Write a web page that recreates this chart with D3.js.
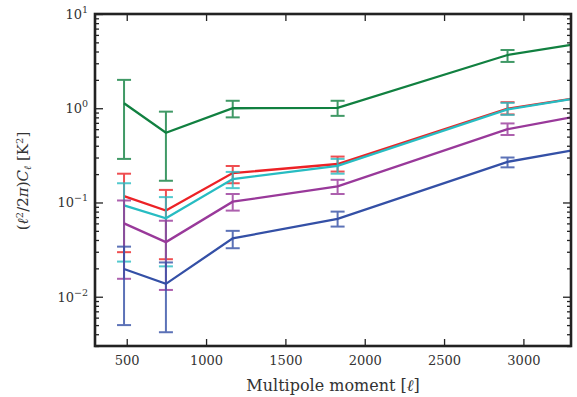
<!DOCTYPE html>
<html>
<head>
<meta charset="utf-8">
<script src="https://cdn.jsdelivr.net/npm/d3@7/dist/d3.min.js"></script>
<style>
  html, body { margin: 0; padding: 0; background: #fff; }
  svg { display: block; }
  text { font-family: "DejaVu Serif", "Liberation Serif", serif; fill: #333; }
</style>
</head>
<body>
<svg id="chart" width="577" height="397"></svg>
<script>
// Multipole bins (the last entry sits at the right edge of the plot)
const ells = [483, 747, 1168, 1829, 2900, 3300];

// Band powers and their 1-sigma ranges for each spectrum
const greenVals = [1.13, 0.55, 1.0, 1.01, 3.67, 4.7];
const greenLo   = [0.29, 0.17, 0.80, 0.83, 3.1, null];
const greenHi   = [2.0, 0.92, 1.2, 1.2, 4.15, null];

const redVals = [0.117, 0.082, 0.205, 0.256, 0.99, 1.26];
const redLo   = [0.0297, 0.025, 0.160, 0.213, 0.86, null];
const redHi   = [0.202, 0.136, 0.244, 0.307, 1.16, null];

const cyanVals = [0.093, 0.068, 0.177, 0.245, 0.97, 1.25];
const cyanLo   = [0.0236, 0.021, 0.142, 0.202, 0.85, null];
const cyanHi   = [0.16, 0.114, 0.211, 0.29, 1.14, null];

const purpleVals = [0.060, 0.038, 0.102, 0.148, 0.60, 0.80];
const purpleLo   = [0.0155, 0.0118, 0.082, 0.123, 0.52, null];
const purpleHi   = [0.105, 0.064, 0.123, 0.174, 0.69, null];

const blueVals = [0.0197, 0.0137, 0.0416, 0.067, 0.27, 0.355];
const blueLo   = [0.005, 0.0042, 0.0327, 0.0555, 0.236, null];
const blueHi   = [0.034, 0.0231, 0.050, 0.080, 0.30, null];

const xTicks = [500, 1000, 1500, 2000, 2500, 3000];
const yDecades = [-2, -1, 0, 1];

const series = [
  { color: "#118040", vals: greenVals,  lo: greenLo,  hi: greenHi },
  { color: "#ec2226", vals: redVals,    lo: redLo,    hi: redHi },
  { color: "#27bcc2", vals: cyanVals,   lo: cyanLo,   hi: cyanHi },
  { color: "#99399a", vals: purpleVals, lo: purpleLo, hi: purpleHi },
  { color: "#3450a6", vals: blueVals,   lo: blueLo,   hi: blueHi }
];

const svg = d3.select("#chart");
const L = 95, R = 571, T = 14, B = 346;

const x = d3.scaleLinear().domain([300, 3300]).range([L, R]);
const y = d3.scaleLog().domain([0.003, 10]).range([B, T]);

svg.append("defs").append("clipPath").attr("id", "plotClip")
  .append("rect").attr("x", L).attr("y", T).attr("width", R - L).attr("height", B - T);

const plot = svg.append("g").attr("clip-path", "url(#plotClip)");

const line = d3.line()
  .x(d => x(d.l))
  .y(d => y(d.v));

series.forEach(s => {
  const pts = ells.map((l, i) => ({ l, v: s.vals[i], lo: s.lo[i], hi: s.hi[i] }));
  const g = plot.append("g");
  const eb = g.append("g").attr("stroke", s.color).attr("stroke-width", 2).attr("opacity", 0.8);
  pts.filter(p => p.lo != null).forEach(p => {
    eb.append("line").attr("x1", x(p.l)).attr("x2", x(p.l)).attr("y1", y(p.lo)).attr("y2", y(p.hi));
    [p.lo, p.hi].forEach(v => {
      eb.append("line").attr("x1", x(p.l) - 7).attr("x2", x(p.l) + 7).attr("y1", y(v)).attr("y2", y(v));
    });
  });
  g.append("path").datum(pts)
    .attr("d", line)
    .attr("fill", "none")
    .attr("stroke", s.color)
    .attr("stroke-width", 2.3);
});

// Axes: ticks point inward on all four sides
const axisColor = "#222";
const bottomAx = svg.append("g").attr("transform", `translate(0,${B})`)
  .call(d3.axisBottom(x).tickValues(xTicks).tickSize(-7).tickPadding(10).tickFormat(d3.format("d")));
const topAx = svg.append("g").attr("transform", `translate(0,${T})`)
  .call(d3.axisTop(x).tickValues(xTicks).tickSize(-7).tickFormat(""));

const minorVals = [];
for (let e = -3; e <= 0; e++) {
  for (let m = 2; m <= 9; m++) {
    const v = m * Math.pow(10, e);
    if (v >= 0.003 && v <= 10) minorVals.push(v);
  }
}
const majorVals = yDecades.map(e => Math.pow(10, e));

const leftMinor = svg.append("g").attr("transform", `translate(${L},0)`)
  .call(d3.axisLeft(y).tickValues(minorVals).tickSize(-4).tickFormat(""));
const rightMinor = svg.append("g").attr("transform", `translate(${R},0)`)
  .call(d3.axisRight(y).tickValues(minorVals).tickSize(-4).tickFormat(""));
const leftMajor = svg.append("g").attr("transform", `translate(${L},0)`)
  .call(d3.axisLeft(y).tickValues(majorVals).tickSize(-8).tickFormat(""));
const rightMajor = svg.append("g").attr("transform", `translate(${R},0)`)
  .call(d3.axisRight(y).tickValues(majorVals).tickSize(-8).tickFormat(""));

[bottomAx, topAx, leftMinor, rightMinor, leftMajor, rightMajor].forEach(a => {
  a.select(".domain").remove();
  a.selectAll(".tick line").attr("stroke", axisColor).attr("stroke-width", 1.3);
});
bottomAx.selectAll(".tick text")
  .attr("font-family", "DejaVu Serif, serif")
  .attr("font-size", 13)
  .attr("fill", "#333");

// Frame
svg.append("rect").attr("x", L).attr("y", T).attr("width", R - L).attr("height", B - T)
  .attr("fill", "none").attr("stroke", axisColor).attr("stroke-width", 2.6);

// Decade labels written as powers of ten
yDecades.forEach(e => {
  const t = svg.append("text")
    .attr("x", 88).attr("y", y(Math.pow(10, e)) + 5)
    .attr("text-anchor", "end")
    .attr("font-size", 13);
  t.append("tspan").text("10");
  t.append("tspan").attr("dy", -6).attr("font-size", 9.5).text(e < 0 ? "\u2212" + (-e) : String(e));
});

// Axis titles
const xl = svg.append("text")
  .attr("x", (L + R) / 2).attr("y", 391)
  .attr("text-anchor", "middle")
  .attr("font-size", 16);
xl.append("tspan").text("Multipole moment [");
xl.append("tspan").attr("font-style", "italic").text("\u2113");
xl.append("tspan").text("]");

const yl = svg.append("text")
  .attr("transform", `translate(28,${(T + B) / 2 + 1}) rotate(-90)`)
  .attr("text-anchor", "middle")
  .attr("font-size", 15);
yl.append("tspan").text("(");
yl.append("tspan").attr("font-style", "italic").text("\u2113");
yl.append("tspan").attr("dy", -5).attr("font-size", 10).text("2");
yl.append("tspan").attr("dy", 5).text("/2");
yl.append("tspan").attr("font-style", "italic").text("\u03c0");
yl.append("tspan").text(")");
yl.append("tspan").attr("font-style", "italic").text("C");
yl.append("tspan").attr("dy", 3).attr("font-size", 10).attr("font-style", "italic").text("\u2113");
yl.append("tspan").attr("dy", -3).text(" [K");
yl.append("tspan").attr("dy", -5).attr("font-size", 10).text("2");
yl.append("tspan").attr("dy", 5).text("]");
</script>
</body>
</html>
